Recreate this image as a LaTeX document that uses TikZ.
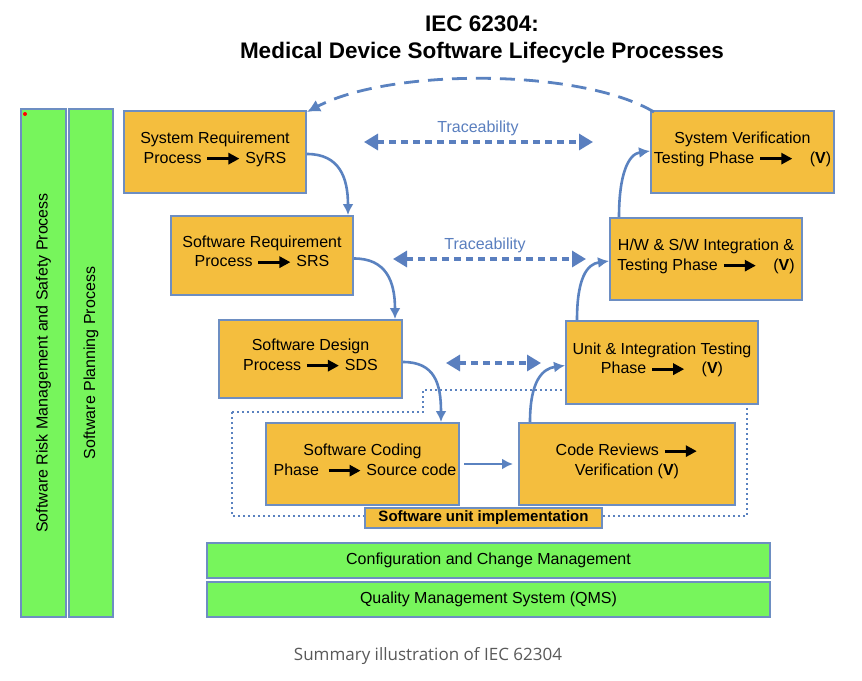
\documentclass[tikz,border=0pt]{standalone}
\usepackage{fontspec}
\setmainfont{Liberation Sans}
\newfontfamily\capfont{Open Sans}
\usetikzlibrary{arrows.meta,calc}
\definecolor{boxfill}{HTML}{F4BE3E}
\definecolor{boxline}{HTML}{6D8EC2}
\definecolor{grn}{HTML}{77F55C}
\definecolor{flowc}{HTML}{5A82C0}
\definecolor{tracec}{HTML}{5A7FBF}
\newcommand\barr{\tikz[baseline=-0.55ex]\draw[line width=3pt,-{Triangle[length=11pt,width=11pt]}] (0pt,0pt)--(32pt,0pt);}
\tikzset{
  stagebox/.style={draw=boxline,line width=2pt,fill=boxfill,inner sep=0pt,align=center,
     font=\fontsize{16}{19.5}\selectfont},
  greenbar/.style={draw=boxline,line width=2pt,fill=grn,inner sep=0pt,align=center,
     font=\fontsize{16}{19.5}\selectfont},
  flow/.style={draw=flowc,line width=2.6pt,-{Latex[length=11pt,width=11pt]}},
  trace/.style={draw=tracec,line width=3.2pt,dash pattern=on 7pt off 5pt,
     {Triangle[length=14pt,width=16pt]}-{Triangle[length=14pt,width=16pt]}},
  tlabel/.style={text=tracec,font=\fontsize{16}{19}\selectfont},
}
\begin{document}
\begin{tikzpicture}[x=1pt,y=-1pt]
\useasboundingbox[fill=white] (0,0) rectangle (862,680);
% title
\node[font=\bfseries\fontsize{22.5}{27}\selectfont] (t1) at (482,24) {IEC 62304:};
\node[font=\bfseries\fontsize{22.5}{27}\selectfont] (t2) at (482,53) {Medical Device Software Lifecycle Processes};
% dotted region
\draw[draw=flowc,line width=2pt,dash pattern=on 2pt off 3pt]
  (232,412) -- (423,412) -- (423,390) -- (747,390) -- (747,516) -- (232,516) -- cycle;
% left bars
\node[greenbar,minimum width=508pt,minimum height=45pt,rotate=90] (risk) at (43.5,363) {Software Risk Management and Safety Process};
\fill[red] (25,114) circle (2);
\node[greenbar,minimum width=508pt,minimum height=44pt,rotate=90] (plan) at (91,363) {Software Planning Process};
% bottom bars
\node[greenbar,minimum width=563pt,minimum height=35pt] (cfg) at (488.5,560.5) {Configuration and Change Management};
\node[greenbar,minimum width=563pt,minimum height=35pt] (qms) at (488.5,599.5) {Quality Management System (QMS)};
% stage boxes
\node[stagebox,minimum width=182pt,minimum height=82pt] (syrs) at (215,152) {System Requirement\\Process \barr\ SyRS\\[-11pt]};
\node[stagebox,minimum width=182pt,minimum height=79pt] (srs) at (262,255.5) {Software Requirement\\Process \barr\ SRS\\[-11pt]};
\node[stagebox,minimum width=183pt,minimum height=78pt] (sds) at (310.5,359) {Software Design\\Process \barr\ SDS\\[-11pt]};
\node[stagebox,minimum width=193pt,minimum height=82pt] (code) at (362.5,464) {Software Coding\\\hspace*{5pt}Phase\enspace\barr\ Source code\\[-11pt]};
\node[stagebox,minimum width=216pt,minimum height=82pt] (rev) at (627,464) {Code Reviews \barr\\Verification (\textbf{V})\\[-11pt]};
\node[stagebox,minimum width=192pt,minimum height=83pt] (unit) at (662,362.5) {Unit \& Integration Testing\\Phase \barr\quad(\textbf{V})\\[-11pt]};
\node[stagebox,minimum width=192pt,minimum height=82pt] (hw) at (706,259) {H/W \& S/W Integration \&\\Testing Phase \barr\quad(\textbf{V})\\[-11pt]};
\node[stagebox,minimum width=183pt,minimum height=82pt] (sysv) at (742.5,152) {System Verification\\Testing Phase \barr\quad(\textbf{V})\\[-11pt]};
\node[stagebox,minimum width=237pt,minimum height=20pt,font=\bfseries\fontsize{15}{18}\selectfont] (sui) at (483.5,518) {Software unit implementation};
% flow arrows
\draw[flow] ([yshift=-2pt]syrs.east) .. controls +(32,0) and +(0,-38) .. ([xshift=-6pt]srs.north east);
\draw[flow] ([yshift=-3pt]srs.east) .. controls +(32,0) and +(0,-38) .. ([xshift=-8pt]sds.north east);
\draw[flow] ([yshift=-3pt]sds.east) .. controls +(32,0) and +(0,-38) .. ([xshift=-19pt]code.north east);
\draw[flow] ([xshift=4pt]code.east) -- ([xshift=-5pt]rev.west);
\draw[flow] ([xshift=12pt]rev.north west) .. controls +(0,-42) and +(-22,3) .. ([yshift=-3pt]unit.west);
\draw[flow] ([xshift=12pt]unit.north west) .. controls +(0,-42) and +(-22,3) .. ([yshift=-2pt]hw.west);
\draw[flow] ([xshift=10pt]hw.north west) .. controls +(0,-42) and +(-22,3) .. ([yshift=1pt]sysv.west);
% dashed return arc
\draw[draw=flowc,line width=2.8pt,dash pattern=on 15pt off 9pt,-{Latex[length=13pt,width=13pt]}]
  ([xshift=4pt,yshift=-2pt]sysv.north west) .. controls (580,68) and (390,68) .. ([yshift=-2pt]syrs.north east);
% traceability
\coordinate (ta1) at (364,142); \coordinate (tb1) at (593,142);
\coordinate (ta2) at (393,259); \coordinate (tb2) at (586,259);
\coordinate (ta3) at (446,363); \coordinate (tb3) at (541,363);
\draw[trace] (ta1) -- (tb1);
\draw[trace] (ta2) -- (tb2);
\draw[trace] (ta3) -- (tb3);
\node[tlabel] (l1) at (478,128) {Traceability};
\node[tlabel] (l2) at (485,245) {Traceability};
% caption
\node[text=black!65,font=\capfont\fontsize{17}{20}\selectfont] (cap) at (428,656) {Summary illustration of IEC 62304};
\end{tikzpicture}
\end{document}
